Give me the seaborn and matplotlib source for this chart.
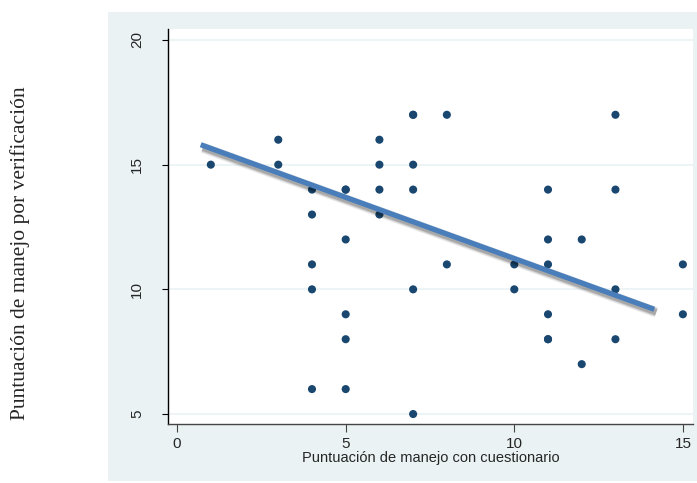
import numpy as np
import pandas as pd
import seaborn as sns
import matplotlib.pyplot as plt
import matplotlib.patheffects as pe
from matplotlib.patches import Rectangle

# scores (questionnaire vs verification)
cuestionario = [1, 3, 3, 4, 4, 4, 4, 4, 5, 5, 5, 5, 5, 5, 6, 6, 6, 6,
                7, 7, 7, 7, 7, 7, 8, 8, 10, 10, 11, 11, 11, 11, 11, 11,
                12, 12, 13, 13, 13, 13, 15, 15]
verificacion = [15, 16, 15, 14, 13, 11, 10, 6, 14, 14, 12, 9, 8, 6, 16, 15, 14, 13,
                17, 17, 15, 14, 10, 5, 17, 11, 11, 10, 14, 12, 11, 9, 8, 8,
                12, 7, 17, 14, 10, 8, 11, 9]
# hand drawn trend line endpoints
linea_x = [0.7, 14.15]
linea_y = [15.8, 9.2]

xticks = [0, 5, 10, 15]
yticks = [5, 10, 15, 20]

df = pd.DataFrame({"x": cuestionario, "y": verificacion})
linea = pd.DataFrame({"x": linea_x, "y": linea_y})

sns.set_style("white")
plt.rcParams["font.family"] = ["Liberation Sans", "DejaVu Sans"]

fig = plt.figure(figsize=(6.97, 4.83), dpi=100)
fig.patches.append(Rectangle((108 / 697, 2 / 483), 1 - 108 / 697, 469 / 483,
                             transform=fig.transFigure, facecolor="#eaf2f3",
                             edgecolor="none", zorder=-5))
ax = fig.add_axes([168 / 697, 59 / 483, 525 / 697, 395 / 483])
ax.set_zorder(2)
ax.set_facecolor("white")

ax.set_axisbelow(True)
for t in yticks:
    ax.axhline(t, color="#eaf2f3", lw=1.2, zorder=0)

sns.scatterplot(data=df, x="x", y="y", ax=ax, color="#1a476f", s=34,
                edgecolor="none", zorder=3)
# soft drop shadow, a few stacked layers
sombra = [pe.SimpleLineShadow(offset=(1.5, -2.2), shadow_color="k", alpha=a, linewidth=w)
          for a, w in [(0.08, 7.5), (0.12, 6), (0.18, 4.5)]]
sns.lineplot(data=linea, x="x", y="y", ax=ax, color="#4a7ebb", lw=3.8,
             solid_capstyle="butt", zorder=4,
             path_effects=sombra + [pe.Normal()])

ax.set_xlim(-0.27, 15.3)
ax.set_ylim(4.6, 20.44)
ax.set_xticks(xticks)
ax.set_yticks(yticks)
ax.set_xticklabels([str(v) for v in xticks], fontsize=11)
ax.set_yticklabels([str(v) for v in yticks], fontsize=11, rotation=90, va="center")

for s in ["top", "right"]:
    ax.spines[s].set_visible(False)
ax.spines["left"].set_color("black")
ax.spines["bottom"].set_color("#444444")
ax.spines["left"].set_linewidth(1)
ax.spines["bottom"].set_linewidth(1)
ax.tick_params(axis="y", length=4.3, width=0.8, pad=13, left=True, color="black")
ax.tick_params(axis="x", length=5.5, width=0.8, pad=4, bottom=True, color="#444444")

ax.set_xlabel("Puntuación de manejo con cuestionario", fontsize=10.5, labelpad=0)
ax.set_ylabel("")
fig.text(20 / 697, 0.5 - 12 / 483, "Puntuación de manejo por verificación",
         rotation=90, va="center", ha="center", fontsize=15.5,
         family=["Liberation Serif", "DejaVu Serif"])

fig.savefig("out.png", dpi=100)
